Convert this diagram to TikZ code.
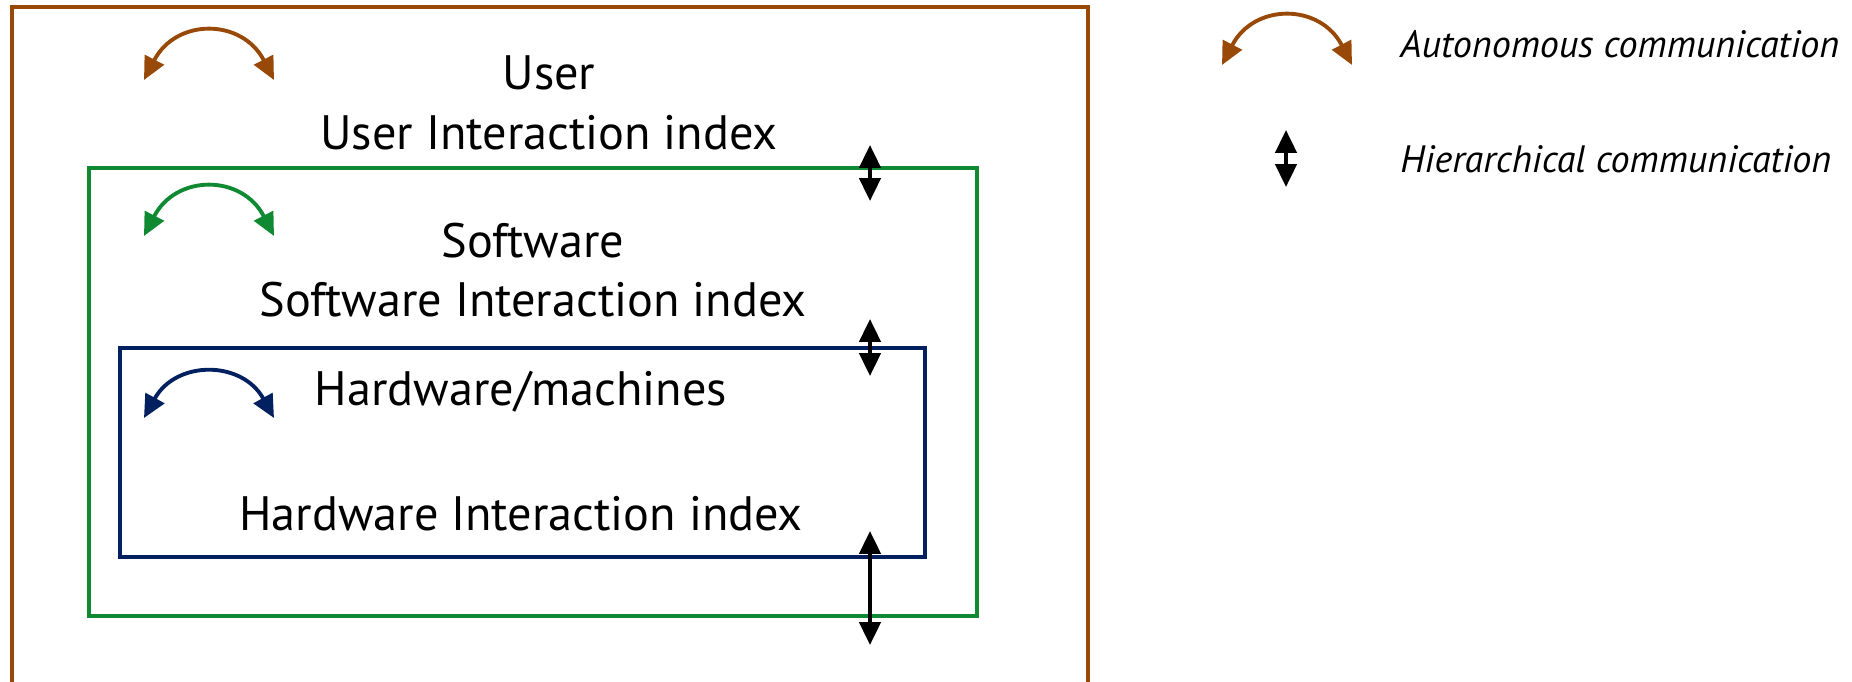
\documentclass[tikz,border=0pt]{standalone}
\usepackage{fontspec}
\setmainfont{PT Sans}
\usetikzlibrary{arrows.meta}
\definecolor{userbrown}{RGB}{152,72,7}
\definecolor{softgreen}{RGB}{16,138,50}
\definecolor{hardnavy}{RGB}{0,32,96}

\begin{document}
\begin{tikzpicture}[x=0.02cm, y=-0.02cm,
    layer/.style={line width=2.3pt},
    hier/.style={line width=2.2pt, {Triangle[width=12pt,length=13pt]}-{Triangle[width=12pt,length=13pt]}},
    auto/.style={line width=2.2pt, {Triangle[width=12pt,length=13pt]}-{Triangle[width=12pt,length=13pt]}},
    lbl/.style={font=\fontsize{27.5}{30}\selectfont, inner sep=0pt},
    legend/.style={font=\fontsize{21.7}{24}\selectfont\itshape, inner sep=0pt, anchor=west}]
    \clip (0,0) rectangle (1852,682);
    % - Layer boxes
    \draw[layer, userbrown] (12,7) rectangle (1088,720);
    \draw[layer, softgreen] (89,168) rectangle (977,616);
    \draw[layer, hardnavy] (120,348) rectangle (925,557);
    % - Layer labels
    \node[lbl] (user) at (549,73) {User};
    \node[lbl] (userindex) at (549,133) {User Interaction index};
    \node[lbl] (soft) at (533,241) {Software};
    \node[lbl] (softindex) at (533,300) {Software Interaction index};
    \node[lbl] (hard) at (521,392) {Hardware/machines};
    \node[lbl] (hardindex) at (521,514) {Hardware Interaction index};
    % - Autonomous arrows
    \coordinate (ua) at (144,80);  \coordinate (ub) at (274,80);
    \coordinate (sa) at (144,236); \coordinate (sb) at (274,236);
    \coordinate (ha) at (144,418); \coordinate (hb) at (274,418);
    \draw[auto, userbrown] (ua) .. controls +(32,-62) and +(-32,-62) .. (ub);
    \draw[auto, softgreen] (sa) .. controls +(32,-62) and +(-32,-62) .. (sb);
    \draw[auto, hardnavy] (ha) .. controls +(32,-58) and +(-32,-58) .. (hb);
    % - Hierarchical arrows
    \coordinate (h1a) at (870,145); \coordinate (h1b) at (870,201);
    \coordinate (h2a) at (870,319); \coordinate (h2b) at (870,376);
    \coordinate (h3a) at (870,531); \coordinate (h3b) at (870,645);
    \draw[hier] (h1a) -- (h1b);
    \draw[hier] (h2a) -- (h2b);
    \draw[hier] (h3a) -- (h3b);
    % - Legend
    \coordinate (la) at (1222,65); \coordinate (lb) at (1352,65);
    \draw[auto, userbrown] (la) .. controls +(32,-62) and +(-32,-62) .. (lb);
    \node[legend] (autotext) at (1400,44) {Autonomous communication};
    \coordinate (lc) at (1286,130); \coordinate (ld) at (1286,187);
    \draw[hier] (lc) -- (ld);
    \node[legend] (hiertext) at (1400,159) {Hierarchical communication};
\end{tikzpicture}
\end{document}
